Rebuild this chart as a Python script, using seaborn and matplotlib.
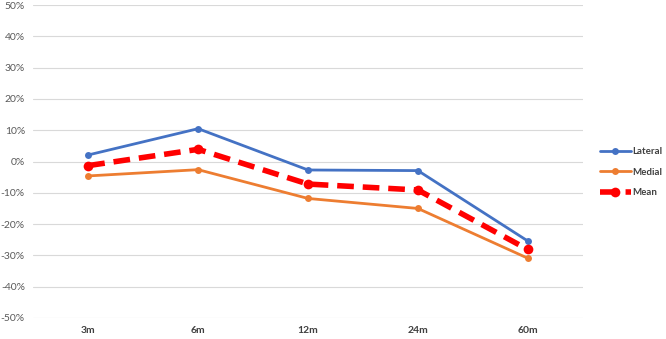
import pandas as pd
import matplotlib.pyplot as plt
import seaborn as sns
from matplotlib.ticker import FuncFormatter

timepoints = ['3m', '6m', '12m', '24m', '60m']
lateral = [2.1, 10.5, -2.7, -2.9, -25.4]
medial = [-4.6, -2.6, -11.8, -15.0, -30.9]
mean = [-1.3, 3.9, -7.2, -9.1, -28.1]

sns.set_style('white')
plt.rcParams['font.family'] = ['Lato', 'DejaVu Sans']

fig = plt.figure(figsize=(6.66, 3.39), dpi=100)
ax = fig.add_axes([0.05, 0.062, 0.825, 0.923])

x = list(range(len(timepoints)))
sns.lineplot(x=x, y=lateral, ax=ax, color='#4472C4', lw=2, marker='o',
             markersize=5, markeredgewidth=0, label='Lateral')
sns.lineplot(x=x, y=medial, ax=ax, color='#ED7D31', lw=2, marker='o',
             markersize=5, markeredgewidth=0, label='Medial')
sns.lineplot(x=x, y=mean, ax=ax, color='#FF0000', lw=4, marker='o',
             markersize=7, markeredgewidth=0, label='Mean')
ax.lines[-1].set_dashes([3, 1.6])

ax.set_xlim(-0.5, len(timepoints) - 0.5)
ax.set_ylim(-50, 50)
ax.set_yticks(range(-50, 51, 10))
ax.yaxis.set_major_formatter(FuncFormatter(lambda v, p: f'{v:.0f}%'))
ax.set_xticks(x)
ax.set_xticklabels(timepoints, fontweight='bold', color='#404040')
ax.tick_params(axis='both', labelsize=7.5, length=0, pad=6)
ax.tick_params(axis='y', colors='#595959')
ax.grid(axis='y', color='#D9D9D9', lw=0.8)
ax.set_axisbelow(True)
for s in ax.spines.values():
    s.set_visible(False)

leg = ax.legend(loc='center left', bbox_to_anchor=(1.031, 0.466), frameon=False,
                fontsize=7, handlelength=3.2, handletextpad=0.15,
                labelspacing=1.2, borderaxespad=0, borderpad=0)
for t in leg.get_texts():
    t.set_color('#404040')
    t.set_fontweight('bold')

fig.savefig('out.png', dpi=100)
